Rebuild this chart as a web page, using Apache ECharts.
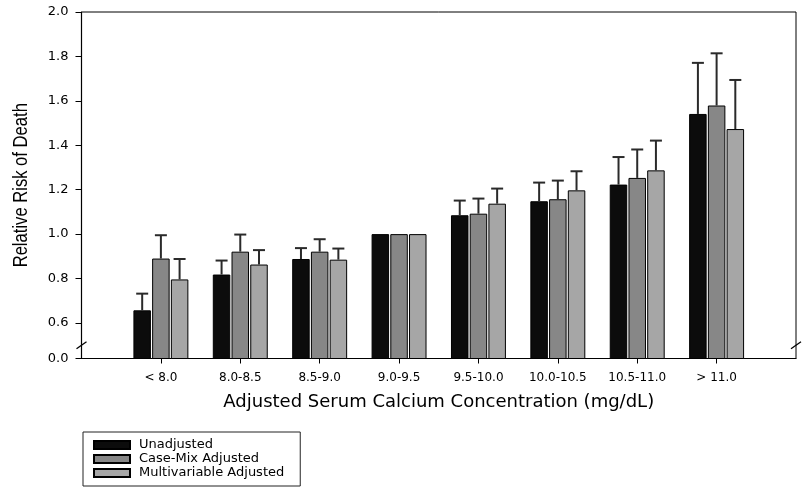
<!DOCTYPE html>
<html>
<head>
<meta charset="utf-8">
<script src="https://cdn.jsdelivr.net/npm/echarts@6/dist/echarts.min.js"></script>
<style>html,body{margin:0;padding:0;background:#fff;}#c{width:805px;height:489px;}</style>
</head>
<body>
<div id="c"></div>
<script>
var categories = ['< 8.0', '8.0-8.5', '8.5-9.0', '9.0-9.5', '9.5-10.0', '10.0-10.5', '10.5-11.0', '> 11.0'];
var seriesNames = ['Unadjusted', 'Case-Mix Adjusted', 'Multivariable Adjusted'];
var unadjusted      = [0.657, 0.818, 0.888, 1.0, 1.085, 1.148, 1.223, 1.541];
var unadjustedUpper = [0.732, 0.881, 0.937, null, 1.151, 1.232, 1.347, 1.771];
var caseMix         = [0.890, 0.921, 0.921, 1.0, 1.092, 1.157, 1.253, 1.579];
var caseMixUpper    = [0.995, 0.998, 0.977, null, 1.160, 1.241, 1.381, 1.814];
var multivar        = [0.796, 0.863, 0.885, 1.0, 1.137, 1.197, 1.287, 1.473];
var multivarUpper   = [0.888, 0.928, 0.935, null, 1.205, 1.283, 1.421, 1.694];
var yTickValues = [0.44, 0.6, 0.8, 1.0, 1.2, 1.4, 1.6, 1.8, 2.0];
var axisBottom = 0.44;
var breakValue = 0.5;
var yTitle = 'Relative Risk of Death';
var xTitle = 'Adjusted Serum Calcium Concentration (mg/dL)';

var values = [unadjusted, caseMix, multivar];
var uppers = [unadjustedUpper, caseMixUpper, multivarUpper];
var colors = ['#0c0c0c', '#878787', '#a6a6a6'];
var offsets = [-18.7, 0, 18.7];

var axisData = [''].concat(categories).concat(['']);
function pad(arr) { return [null].concat(arr).concat([null]); }

var chart = echarts.init(document.getElementById('c'), null, {renderer: 'canvas'});
var series = [];
values.forEach(function (vals, si) {
  series.push({
    name: seriesNames[si],
    type: 'bar',
    data: pad(vals),
    barWidth: 17.5,
    barGap: '7%',
    itemStyle: {color: colors[si], borderColor: '#000', borderWidth: 1},
    z: 2
  });
});
values.forEach(function (vals, si) {
  var d = [];
  vals.forEach(function (v, i) {
    if (uppers[si][i] != null) d.push([i + 1, v, uppers[si][i]]);
  });
  series.push({
    type: 'custom',
    data: d,
    z: 3,
    renderItem: function (params, api) {
      var base = api.coord([api.value(0), api.value(1)]);
      var top = api.coord([api.value(0), api.value(2)]);
      var x = base[0] + offsets[si];
      var st = {stroke: '#2a2a2a', lineWidth: 2};
      return {
        type: 'group',
        children: [
          {type: 'line', shape: {x1: x, y1: base[1], x2: x, y2: top[1]}, style: st},
          {type: 'line', shape: {x1: x - 6, y1: top[1], x2: x + 6, y2: top[1]}, style: st}
        ]
      };
    }
  });
});

chart.setOption({
  animation: false,
  backgroundColor: '#fff',
  grid: {left: 81.5, right: 9, top: 12, bottom: 130.5, show: true, borderColor: '#000', borderWidth: 1},
  legend: {
    data: seriesNames,
    orient: 'vertical',
    left: 83, top: 432,
    icon: 'rect',
    itemWidth: 36, itemHeight: 8, itemGap: 0,
    padding: [6, 16, 6, 10],
    borderColor: '#222', borderWidth: 1,
    selectedMode: false,
    textStyle: {fontFamily: 'DejaVu Sans', fontSize: 13, color: '#000', lineHeight: 14, padding: [0, 0, 0, 4]}
  },
  xAxis: {
    type: 'category',
    data: axisData,
    boundaryGap: false,
    axisLine: {lineStyle: {color: '#000', width: 1.2}},
    axisTick: {length: 5, lineStyle: {color: '#000'}, interval: function (i) { return i > 0 && i < axisData.length - 1; }},
    axisLabel: {interval: 0, margin: 13, fontFamily: 'DejaVu Sans', fontSize: 12, color: '#000'},
    splitLine: {show: false},
    name: xTitle,
    nameLocation: 'middle',
    nameGap: 35,
    nameTextStyle: {fontFamily: 'DejaVu Sans', fontSize: 18, color: '#000'}
  },
  yAxis: {
    type: 'value',
    min: axisBottom, max: 2.0,
    axisLine: {show: true, lineStyle: {color: '#000', width: 1.2}},
    axisTick: {show: true, length: 6, customValues: yTickValues, lineStyle: {color: '#000'}},
    axisLabel: {
      customValues: yTickValues, margin: 13,
      fontFamily: 'DejaVu Sans', fontSize: 13, color: '#000',
      formatter: function (v) { return v < breakValue ? '0.0' : v.toFixed(1); }
    },
    splitLine: {show: false}
  },
  series: series
});

var yb = chart.convertToPixel({yAxisIndex: 0}, breakValue);
var xl = chart.convertToPixel({xAxisIndex: 0}, 0);
var xr = chart.convertToPixel({xAxisIndex: 0}, axisData.length - 1);
var ymid = (chart.convertToPixel({yAxisIndex: 0}, axisBottom) + chart.convertToPixel({yAxisIndex: 0}, 2.0)) / 2;
function slash(x) {
  return {type: 'line', shape: {x1: x - 5, y1: yb + 3.5, x2: x + 5, y2: yb - 3.5}, style: {stroke: '#000', lineWidth: 1.3}, z: 10};
}
chart.setOption({graphic: [
  slash(xl), slash(xr),
  {
    type: 'text', x: 21.5, y: ymid, rotation: Math.PI / 2, scaleX: 0.83,
    style: {text: yTitle, font: '20px "Liberation Sans", Arial, sans-serif', fill: '#000', align: 'center', verticalAlign: 'middle'},
    z: 10
  }
]});
</script>
</body>
</html>
